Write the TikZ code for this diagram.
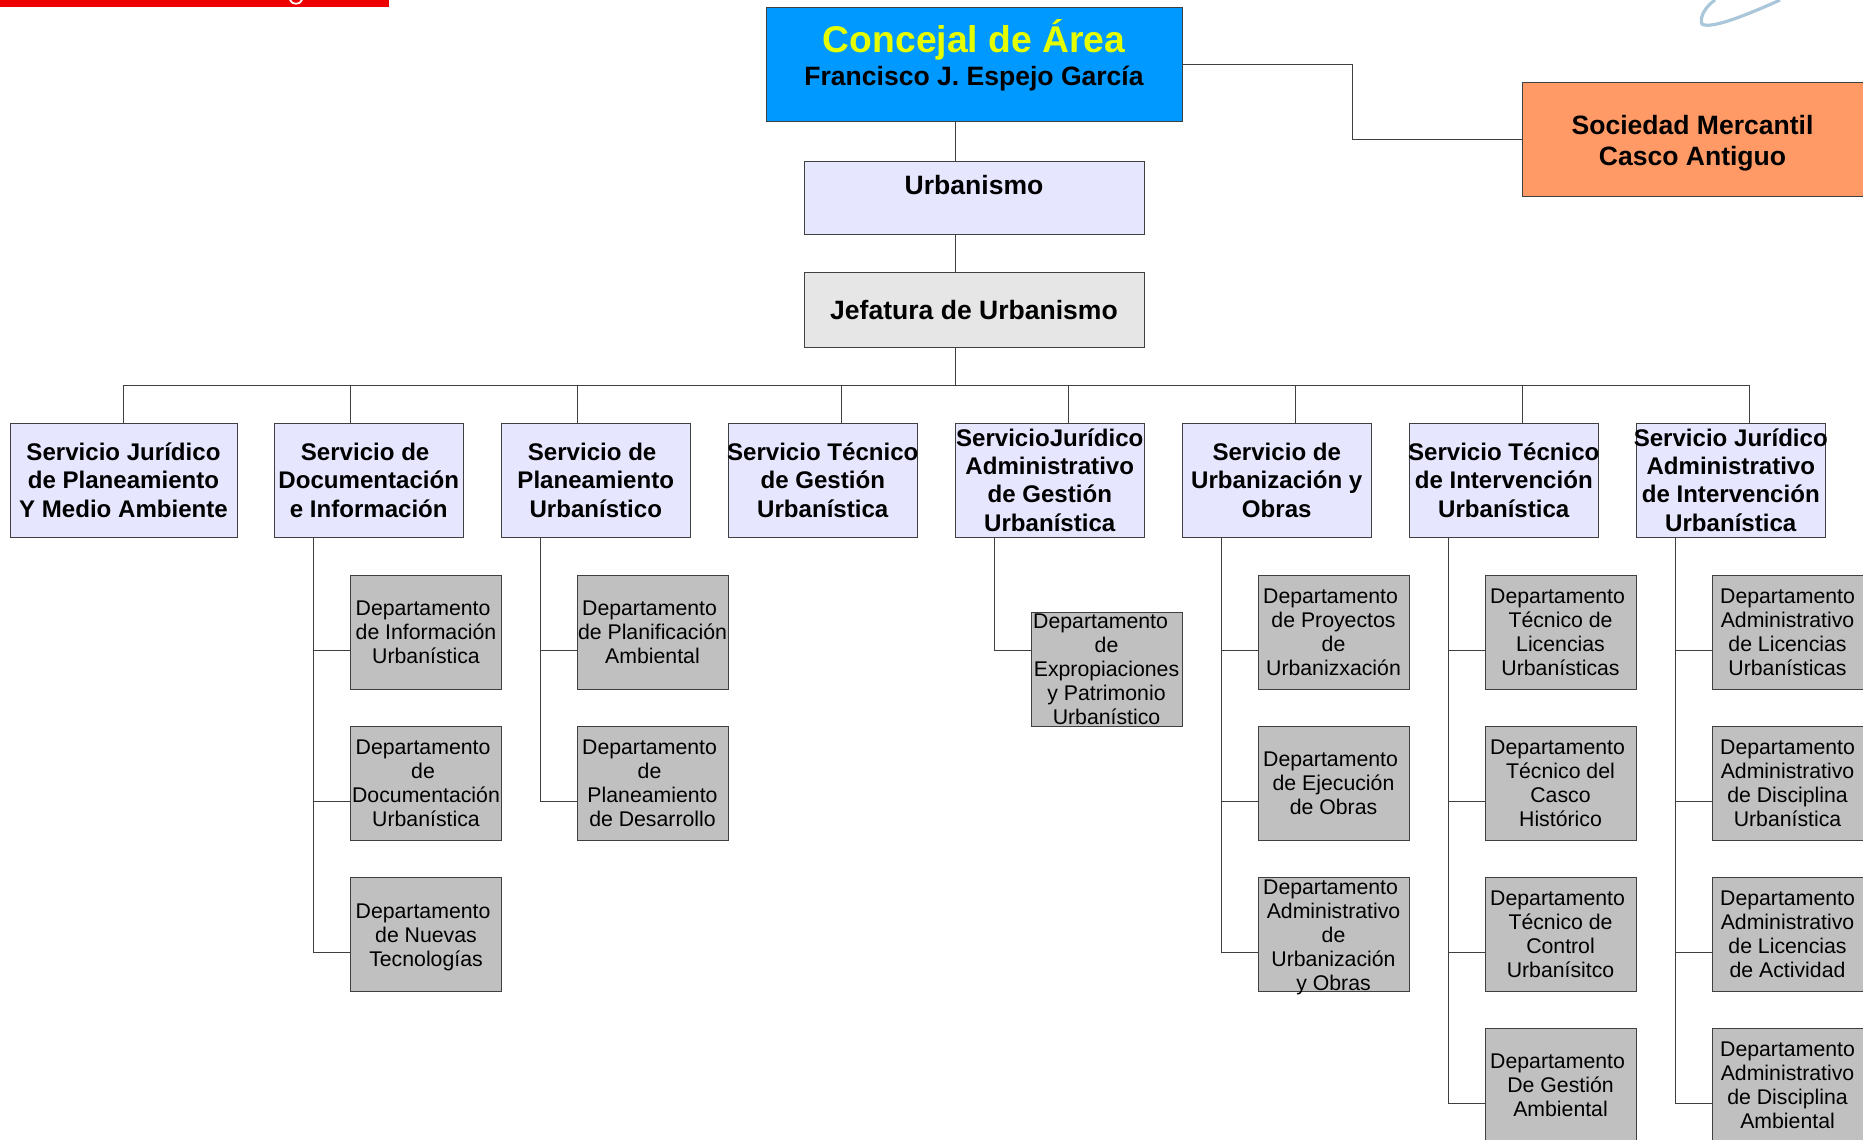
\documentclass[tikz,border=0pt]{standalone}
\usepackage{fontspec}
\setmainfont{Liberation Sans}
\definecolor{azul}{HTML}{0099FF}
\definecolor{amarillo}{HTML}{E6FF00}
\definecolor{lila}{HTML}{E6E6FF}
\definecolor{claro}{HTML}{E6E6E6}
\definecolor{gris}{HTML}{C0C0C0}
\definecolor{naranja}{HTML}{FF9966}
\definecolor{rojo}{HTML}{EE0000}
\definecolor{linea}{HTML}{404040}
\definecolor{trazo}{HTML}{A9C6DA}
\tikzset{
	caja/.style={draw=linea, line width=0.25pt, anchor=north west, align=center, inner sep=-5pt, outer sep=0pt},
	jefe/.style={caja, font=\bfseries\fontsize{7.55}{8.8}\selectfont, minimum width=3.40cm},
	servicio/.style={caja, fill=lila, font=\bfseries\fontsize{6.85}{8.1}\selectfont, minimum width=1.895cm, minimum height=1.14cm},
	depto/.style={caja, fill=gris, font=\fontsize{6.05}{6.85}\selectfont, minimum width=1.51cm, minimum height=1.14cm},
	conn/.style={draw=linea, line width=0.25pt},
}
\newcommand{\Dpto}{Departamento\kern.28em}
\begin{document}
\begin{tikzpicture}[x=1cm,y=-1cm]

	\clip (0, 0) rectangle (18.63, 11.39);

	\fill[rojo] (0, 0) rectangle (3.89, 0.07);
	\draw[white, line width=0.5pt] (2.90, 0) .. controls (2.92, 0.05) and (3.00, 0.05) .. (3.02, 0);
	\draw[trazo, line width=0.9pt] (17.80, 0) .. controls (17.40, 0.18) and (17.10, 0.29) .. (17.02, 0.24) .. controls (16.99, 0.17) and (17.06, 0.06) .. (17.15, 0);

	\node (concejal) [jefe, fill=azul, minimum width=4.16cm, minimum height=1.14cm] at (7.66, 0.07) {\textcolor{amarillo}{\fontsize{10.6}{10.2}\selectfont Concejal de Área}\\[0.5pt] Francisco J. Espejo García\\[-2.3pt]~};
	\node (urbanismo) [jefe, fill=lila, minimum height=0.73cm] at (8.04, 1.61) {\rule{0pt}{6.8pt}Urbanismo\\~};
	\node (jefatura) [jefe, fill=claro, minimum height=0.75cm] at (8.04, 2.72) {Jefatura de Urbanismo};
	\node (sociedad) [jefe, fill=naranja, minimum width=3.41cm, minimum height=1.14cm] at (15.22, 0.82) {\rule{0pt}{8pt}Sociedad Mercantil\\Casco Antiguo};

	\node (s1) [servicio, minimum width=2.27cm] at (0.10, 4.23) {Servicio Jurídico\\de Planeamiento\\Y Medio Ambiente};
	\node (s2) [servicio] at (2.74, 4.23) {Servicio de\kern.3em\\Documentación\\e Información};
	\node (s3) [servicio] at (5.01, 4.23) {Servicio de\kern.3em\\Planeamiento\\Urbanístico};
	\node (s4) [servicio] at (7.28, 4.23) {Servicio Técnico\\de Gestión\\Urbanística};
	\node (s5) [servicio] at (9.55, 4.23) {ServicioJurídico\\Administrativo\\de Gestión\\Urbanística};
	\node (s6) [servicio] at (11.82, 4.23) {Servicio de\\Urbanización y\\Obras};
	\node (s7) [servicio] at (14.09, 4.23) {Servicio Técnico\\de Intervención\\Urbanística};
	\node (s8) [servicio] at (16.36, 4.23) {Servicio Jurídico\\Administrativo\\de Intervención\\Urbanística};

	\node (d21) [depto] at (3.505, 5.75) {\Dpto\\de Información\\Urbanística};
	\node (d22) [depto] at (3.505, 7.26) {\Dpto\\de\kern.28em\\Documentación\\Urbanística};
	\node (d23) [depto] at (3.505, 8.77) {\rule{0pt}{6pt}\Dpto\\de Nuevas\\Tecnologías};

	\node (d31) [depto] at (5.77, 5.75) {\Dpto\\de Planificación\\Ambiental};
	\node (d32) [depto] at (5.77, 7.26) {\Dpto\\de\kern.28em\\Planeamiento\\de Desarrollo};

	\node (d51) [depto] at (10.31, 6.12) {Departamento\kern.56em\\de\\Expropiaciones\\y Patrimonio\\Urbanístico};

	\node (d61) [depto] at (12.58, 5.75) {\Dpto\\de Proyectos\\de\\Urbanizxación};
	\node (d62) [depto] at (12.58, 7.26) {\Dpto\\de Ejecución\\de Obras};
	\node (d63) [depto] at (12.58, 8.77) {\rule{0pt}{6pt}Departamento\kern.28em\\Administrativo\\de\\Urbanización\\y Obras};

	\node (d71) [depto] at (14.85, 5.75) {\Dpto\\Técnico de\\Licencias\\Urbanísticas};
	\node (d72) [depto] at (14.85, 7.26) {\Dpto\\Técnico del\\Casco\\Histórico};
	\node (d73) [depto] at (14.85, 8.77) {\Dpto\\Técnico de\\Control\\Urbanísitco};
	\node (d74) [depto] at (14.85, 10.28) {\Dpto\\De Gestión\\Ambiental};

	\node (d81) [depto] at (17.12, 5.75) {Departamento\\Administrativo\\de Licencias\\Urbanísticas};
	\node (d82) [depto] at (17.12, 7.26) {Departamento\\Administrativo\\de Disciplina\\Urbanística};
	\node (d83) [depto] at (17.12, 8.77) {Departamento\\Administrativo\\de Licencias\\de Actividad};
	\node (d84) [depto] at (17.12, 10.28) {Departamento\\Administrativo\\de Disciplina\\Ambiental};

	\coordinate (sm) at (13.52, 1.00);
	\coordinate (tr) at (9.55, 3.85);

	\path[conn]
	(concejal.south -| tr) edge (urbanismo.north -| tr)
	(urbanismo.south -| tr) edge (jefatura.north -| tr)
	(jefatura.south -| tr) edge (tr)
	(s2.108) edge (s2.108 |- tr)
	(s3.108) edge (s3.108 |- tr)
	(s4.72) edge (s4.72 |- tr)
	(s5.72) edge (s5.72 |- tr)
	(s6.72) edge (s6.72 |- tr)
	(s7.72) edge (s7.72 |- tr)
	(s2.226 |- d21.194) edge (d21.194)
	(s2.226 |- d22.194) edge (d22.194)
	(s3.226 |- d31.194) edge (d31.194)
	(s6.226 |- d61.194) edge (d61.194)
	(s6.226 |- d62.194) edge (d62.194)
	(s7.226 |- d71.194) edge (d71.194)
	(s7.226 |- d72.194) edge (d72.194)
	(s7.226 |- d73.194) edge (d73.194)
	(s8.226 |- d81.194) edge (d81.194)
	(s8.226 |- d82.194) edge (d82.194)
	(s8.226 |- d83.194) edge (d83.194);

	\draw[conn] (concejal.east) -| (sm) |- (sociedad.west);
	\draw[conn] (s1.north) |- (tr) -| (s8.72);
	\draw[conn] (s2.226) |- (d23.194);
	\draw[conn] (s3.226) |- (d32.194);
	\draw[conn] (s5.226) |- (d51.166);
	\draw[conn] (s6.226) |- (d63.194);
	\draw[conn] (s7.226) |- (d74.194);
	\draw[conn] (s8.226) |- (d84.194);

\end{tikzpicture}
\end{document}
